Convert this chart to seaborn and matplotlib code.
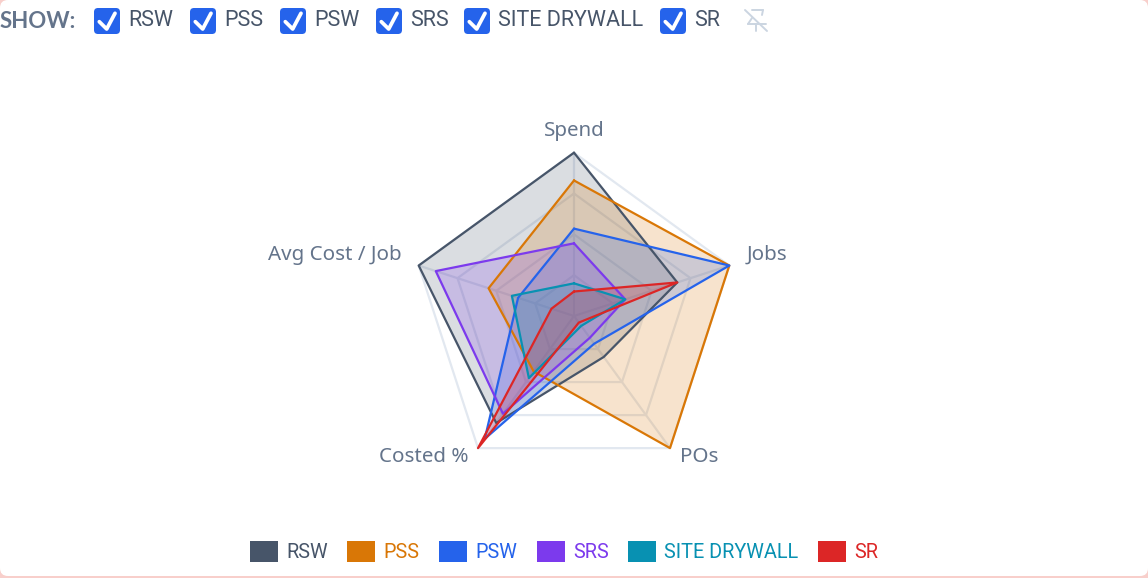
import numpy as np
import pandas as pd
import seaborn as sns
import matplotlib.pyplot as plt
from matplotlib.patches import FancyBboxPatch, Patch, Rectangle

axes_names = ['Spend', 'Jobs', 'POs', 'Costed %', 'Avg Cost / Job']
series_names = ['RSW', 'PSS', 'PSW', 'SRS', 'SITE DRYWALL', 'SR']
rsw = [1.0, 0.665, 0.31, 0.81, 1.0]
pss = [0.83, 1.0, 1.0, 0.42, 0.55]
psw = [0.535, 1.0, 0.21, 0.93, 0.36]
srs = [0.445, 0.33, 0.165, 0.74, 0.89]
site_drywall = [0.20, 0.33, 0.075, 0.47, 0.40]
sr = [0.15, 0.665, 0.05, 1.0, 0.145]
ring_levels = [0.25, 0.5, 0.75, 1.0]

colors = ['#475569', '#d97706', '#2563eb', '#7c3aed', '#0891b2', '#dc2626']
text_grey = '#64748b'
grid_col = '#e2e8f0'

W, H = 1148, 578
sns.set_theme(style='white')
plt.rcParams['font.family'] = ['Inter', 'DejaVu Sans']

fig = plt.figure(figsize=(W / 100, H / 100), dpi=100, facecolor='white')

# plain pixel layer for the header controls (y goes down like the screenshot)
bg = fig.add_axes([0, 0, 1, 1], zorder=0)
bg.set_xlim(0, W)
bg.set_ylim(H, 0)
bg.axis('off')

# pink card edge behind a white rounded panel
bg.add_patch(Rectangle((0, 0), W, H, fc='#f8cfcb', ec='none'))
bg.add_patch(FancyBboxPatch((8, 8), W - 16, H - 18, boxstyle='round,pad=8,rounding_size=8',
                            fc='white', ec='none'))

# radar sits at (574, 316) with radius 163 px
cx, cy, R = 574, 316, 163.3
ax = fig.add_axes([(cx - R) / W, (H - cy - R) / H, 2 * R / W, 2 * R / H],
                  projection='polar', zorder=1)
ax.patch.set_alpha(0)
ax.set_theta_zero_location('N')
ax.set_theta_direction(-1)
ax.set_ylim(0, 1)
ax.grid(False)
ax.set_xticks([])
ax.set_yticks([])
ax.spines['polar'].set_visible(False)

theta = np.linspace(0, 2 * np.pi, len(axes_names), endpoint=False)
theta_closed = np.append(theta, theta[0])

for lvl in ring_levels:
    ax.plot(theta_closed, [lvl] * len(theta_closed), color=grid_col, lw=1.6, clip_on=False, zorder=1)
for t in theta:
    ax.plot([t, t], [0, 1], color=grid_col, lw=1.6, clip_on=False, zorder=1)

values = [rsw, pss, psw, srs, site_drywall, sr]
frames = []
for name, vals in zip(series_names, values):
    frames.append(pd.DataFrame({'theta': theta_closed, 'value': vals + vals[:1], 'series': name}))
df = pd.concat(frames, ignore_index=True)

for name, col in zip(series_names, colors):
    part = df[df['series'] == name]
    ax.fill(part['theta'], part['value'], color=col, alpha=0.2, lw=0, clip_on=False, zorder=2)

sns.lineplot(data=df, x='theta', y='value', hue='series', hue_order=series_names,
             palette=colors, sort=False, estimator=None, lw=1.6, legend=False, ax=ax, zorder=3)
for ln in ax.get_lines():
    ln.set_clip_on(False)
ax.set_xlabel('')
ax.set_ylabel('')
ax.set_ylim(0, 1)

# axis names, nudged off the outer ring in pixels
label_offsets = [(0, 22), (17, 11), (10, -9), (-10, -9), (-17, 11)]
label_align = ['center', 'left', 'left', 'right', 'right']
for t, name, off, ha in zip(theta, axes_names, label_offsets, label_align):
    ax.annotate(name, xy=(t, 1), xytext=off, textcoords='offset pixels', ha=ha, va='center',
                color=text_grey, fontsize=14.8, annotation_clip=False, family=['Noto Sans', 'DejaVu Sans'])

# bottom legend
handles = [Patch(facecolor=c, edgecolor='none') for c in colors]
leg = fig.legend(handles, series_names, loc='center', bbox_to_anchor=(564 / W, 1 - 551.5 / H), ncol=6,
                 frameon=False, handlelength=1.41, handleheight=1.25,
                 handletextpad=0.42, columnspacing=0.98, prop={'family': 'Roboto', 'size': 14.3})
for txt, c in zip(leg.get_texts(), colors):
    txt.set_color(c)

# header
bg.text(0, 21, 'SHOW:', color=text_grey, fontsize=16, fontweight='bold', va='center', ha='left',
        family=['Lato', 'DejaVu Sans'])
box_x = [94, 190, 280, 376, 464, 660]
for x, name in zip(box_x, series_names):
    bg.add_patch(FancyBboxPatch((x + 4, 12), 18, 18, boxstyle='round,pad=4,rounding_size=4',
                                fc='#2563eb', ec='none'))
    bg.plot([x + 5.3, x + 12.7, x + 21], [21.7, 29, 13.3], color='white', lw=2.7, solid_capstyle='round',
            solid_joinstyle='round')
    bg.text(x + 34.5, 21, name, color='#475569', fontsize=15.5, va='center', ha='left',
            family=['Roboto', 'DejaVu Sans'])

# crossed out pin
pin = '#cbd5e1'
for xs, ys in [([745, 767], [10, 31]), ([752, 763], [10, 10]), ([763, 762], [10, 15]),
               ([752, 748], [18, 24]), ([748, 766], [24, 24]), ([756, 756], [24, 31])]:
    bg.plot(xs, ys, color=pin, lw=1.4)

bg.set_xlim(0, W)
bg.set_ylim(H, 0)

fig.savefig('out.png', dpi=100, facecolor='white')
